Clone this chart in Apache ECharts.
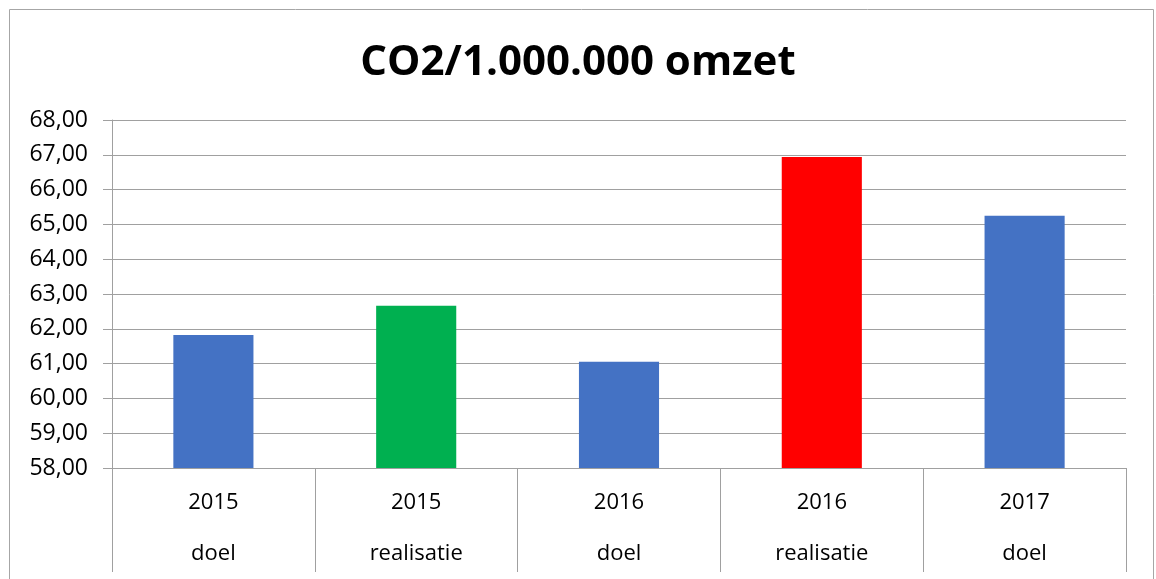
<!DOCTYPE html>
<html><head><meta charset="utf-8">
<script src="https://cdn.jsdelivr.net/npm/echarts@6/dist/echarts.min.js"></script>
<style>html,body{margin:0;padding:0;background:#fff}#c{width:1156px;height:579px}</style>
</head><body><div id="c"></div>
<script>
const years = ['2015','2015','2016','2016','2017'];
const kinds = ['doel','realisatie','doel','realisatie','doel'];
const values = [61.82, 62.66, 61.05, 66.94, 65.25];
const colors = ['#4472C4','#00B050','#4472C4','#FF0000','#4472C4'];
const yTicks = [58,59,60,61,62,63,64,65,66,67,68];

const chart = echarts.init(document.getElementById('c'));
const cats = years.map((y,i)=>y+'\n'+kinds[i]);
chart.setOption({
  animation:false,
  title:{text:'CO2/1.000.000 omzet',left:'center',top:37,
    textStyle:{fontFamily:'Open Sans',fontWeight:'bold',fontSize:42,color:'#000'}},
  graphic:[{type:'rect',shape:{x:9.5,y:9.5,width:1144,height:600},style:{fill:null,stroke:'#a6a6a6',lineWidth:1}}],
  grid:{left:112,right:30,top:120,bottom:111},
  xAxis:{type:'category',data:cats,
    axisLine:{lineStyle:{color:'#a0a0a0'}},
    axisTick:{show:true,length:104,alignWithLabel:false,lineStyle:{color:'#a0a0a0'}},
    axisLabel:{margin:9,color:'#000',fontFamily:'Open Sans',fontSize:22,lineHeight:51,interval:0}},
  yAxis:{type:'value',min:yTicks[0],max:yTicks[yTicks.length-1],interval:1,
    axisLine:{show:true,lineStyle:{color:'#a0a0a0'}},
    axisTick:{show:true,length:9,lineStyle:{color:'#a0a0a0'}},
    splitLine:{lineStyle:{color:'#a0a0a0'}},
    axisLabel:{margin:24,color:'#000',fontFamily:'Open Sans',fontSize:23,
      formatter:v=>v.toFixed(2).replace('.',',')}},
  series:[{type:'bar',barWidth:'39.5%',
    data:values.map((v,i)=>({value:v,itemStyle:{color:colors[i]}}))}]
});
</script></body></html>
